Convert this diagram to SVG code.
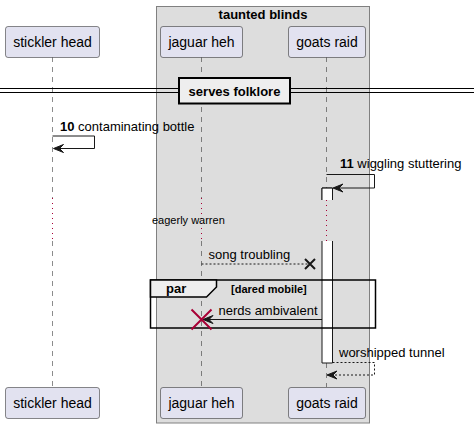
<svg xmlns="http://www.w3.org/2000/svg" width="474" height="428" viewBox="0 0 474 428">
<style>
text{font-family:"Liberation Sans",Arial,sans-serif;fill:#000}
.p rect{fill:#E2E2F0;stroke:#181818;stroke-width:0.5}
.p text{font-size:14px;text-anchor:middle}
.life{stroke:#181818;stroke-width:0.5;stroke-dasharray:5,5;fill:none}
.delay{stroke:#A80036;stroke-width:1;stroke-dasharray:1,4;fill:none}
.msg{font-size:13px}
.b{font-weight:bold}
.ln{stroke:#181818;stroke-width:1;fill:none}
.dash{stroke:#181818;stroke-width:1;fill:none;stroke-dasharray:2,2}
.head{fill:#181818;stroke:#181818;stroke-width:1}
.act{fill:#FFFFFF;stroke:#181818;stroke-width:1}
</style>
<g id="group-taunted-blinds">
<rect x="156.5" y="6.5" width="213" height="416.5" fill="#DDDDDD" stroke="#808080" stroke-width="1"/>
<text x="263" y="19" font-size="13" font-weight="bold" text-anchor="middle">taunted blinds</text>
</g>
<g id="lifelines">
<line class="life" x1="52.5" y1="57" x2="52.5" y2="198"/>
<line class="life" x1="52.5" y1="241" x2="52.5" y2="387"/>
<line class="life" x1="201.5" y1="57" x2="201.5" y2="198"/>
<line class="life" x1="201.5" y1="241" x2="201.5" y2="387"/>
<line class="life" x1="326.5" y1="57" x2="326.5" y2="188"/>
<line class="life" x1="326.5" y1="363" x2="326.5" y2="387"/>
<line class="delay" x1="52.5" y1="198" x2="52.5" y2="241"/>
<line class="delay" x1="201.5" y1="198" x2="201.5" y2="241"/>
<line class="delay" x1="326.5" y1="200" x2="326.5" y2="241"/>
</g>
<g id="divider">
<line x1="0" y1="88.5" x2="474" y2="88.5" stroke="#000" stroke-width="1"/>
<line x1="0" y1="92.5" x2="474" y2="92.5" stroke="#000" stroke-width="1"/>
<rect x="179" y="78" width="111" height="25.5" fill="#EEEEEE" stroke="#000" stroke-width="2"/>
<text x="234.5" y="95.5" font-size="13" font-weight="bold" text-anchor="middle">serves folklore</text>
</g>
<g id="activations">
<path d="M322 200 V188 H332.5 V200" class="act"/>
<rect x="322" y="188.5" width="10.5" height="11.5" fill="#FFFFFF" stroke="none"/>
<line x1="322" y1="188" x2="332.5" y2="188" stroke="#181818"/>
<line x1="322" y1="188" x2="322" y2="200" stroke="#181818"/>
<line x1="332.5" y1="188" x2="332.5" y2="200" stroke="#181818"/>
<rect x="322" y="241" width="10.5" height="122" fill="#FFFFFF" stroke="none"/>
<path d="M322 241 V363 H332.5 V241" fill="none" stroke="#181818"/>
</g>
<g id="fragment-par">
<rect x="150.5" y="280" width="225" height="48" fill="none" stroke="#000" stroke-width="1.5"/>
<path d="M150.5 280 H216.5 V287 L206.5 297 H150.5 Z" fill="#EEEEEE" stroke="#000" stroke-width="1.5"/>
<text x="166" y="293" font-size="13" font-weight="bold">par</text>
<text x="231" y="293" font-size="11" font-weight="bold">[dared mobile]</text>
</g>
<g id="connectors">
<path class="ln" d="M52.5 136 H94.5 V148.5 H54"/>
<polygon class="head" points="53.5,148.5 63.5,144.5 59.5,148.5 63.5,152.5"/>
<text class="msg" x="60" y="131"><tspan class="b">10</tspan> contaminating bottle</text>
<path class="ln" d="M326.5 174.5 H374.5 V188 H334"/>
<polygon class="head" points="333,188 343,184 339,188 343,192"/>
<text class="msg" x="340" y="168"><tspan class="b">11</tspan> wiggling stuttering</text>
<text x="152" y="224" font-size="11">eagerly warren</text>
<line class="dash" x1="201.5" y1="264" x2="310" y2="264"/>
<path d="M305 259 L315 269 M305 269 L315 259" stroke="#181818" stroke-width="2" fill="none"/>
<text class="msg" x="208.5" y="259">song troubling</text>
<line class="ln" x1="204" y1="319.5" x2="322" y2="319.5"/>
<polygon class="head" points="203,319.5 213,315.5 209,319.5 213,323.5"/>
<path d="M191.5 309.5 L211.5 329.5 M191.5 329.5 L211.5 309.5" stroke="#A80036" stroke-width="2" fill="none"/>
<text class="msg" x="218.5" y="315">nerds ambivalent</text>
<path class="dash" d="M332.5 362.5 H374.5 V375 H328"/>
<polygon class="head" points="327,375 337,371 333,375 337,379"/>
<text class="msg" x="339" y="357">worshipped tunnel</text>
</g>
<g id="stickler-head" class="p">
<rect x="5.5" y="26.5" width="94" height="31" rx="2.5"/>
<text x="52.5" y="47">stickler head</text>
<rect x="5.5" y="387.5" width="94" height="31" rx="2.5"/>
<text x="52.5" y="408">stickler head</text>
</g>
<g id="jaguar-heh" class="p">
<rect x="160.5" y="26.5" width="82" height="31" rx="2.5"/>
<text x="201.5" y="47">jaguar heh</text>
<rect x="160.5" y="387.5" width="82" height="31" rx="2.5"/>
<text x="201.5" y="408">jaguar heh</text>
</g>
<g id="goats-raid" class="p">
<rect x="288.5" y="26.5" width="77" height="31" rx="2.5"/>
<text x="327" y="47">goats raid</text>
<rect x="288.5" y="387.5" width="77" height="31" rx="2.5"/>
<text x="327" y="408">goats raid</text>
</g>
</svg>
